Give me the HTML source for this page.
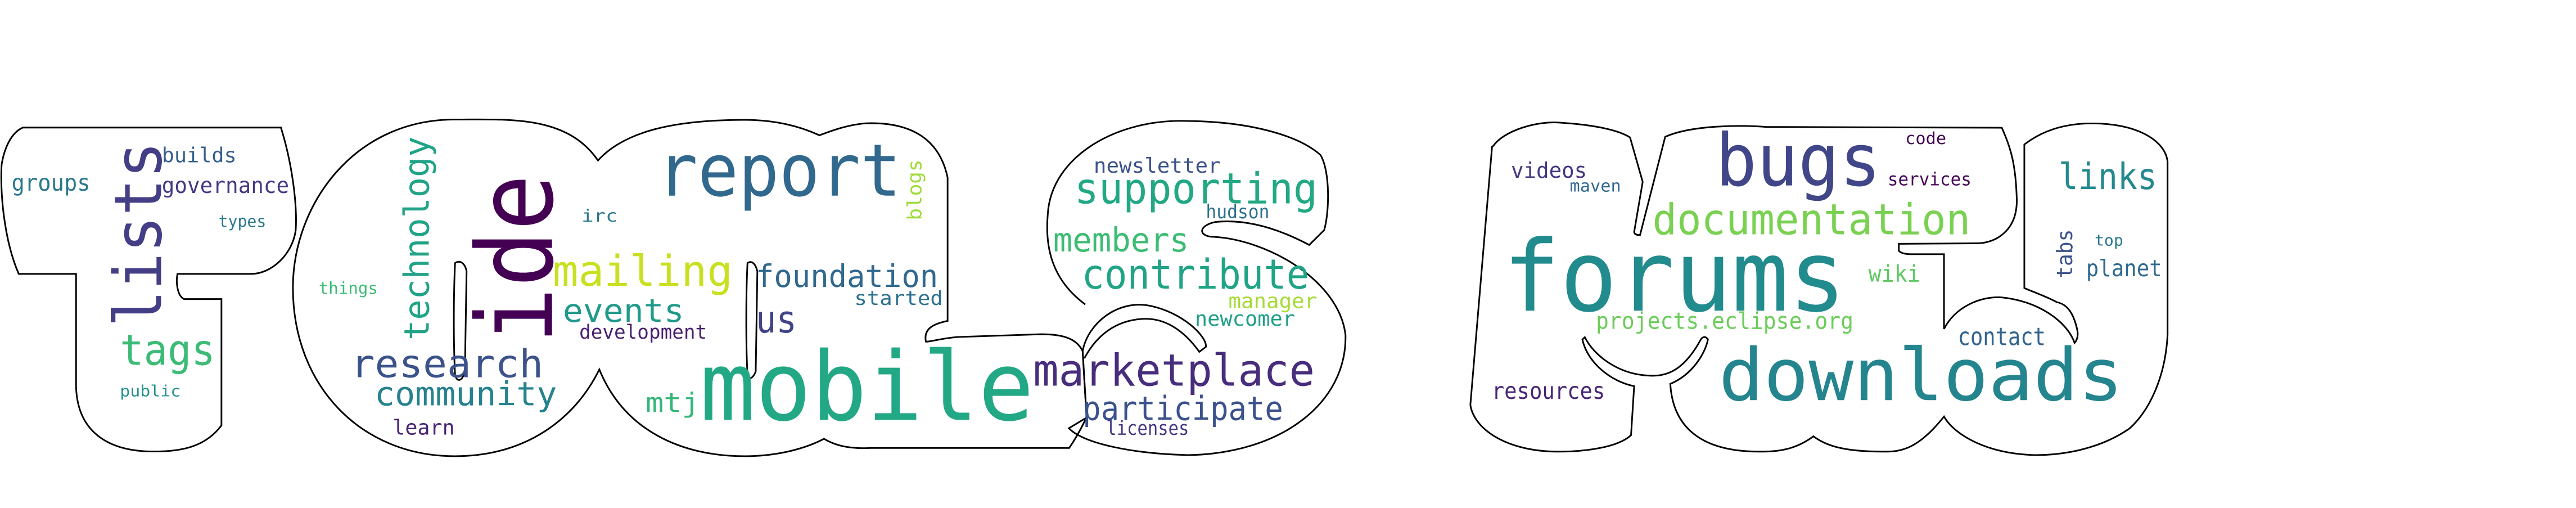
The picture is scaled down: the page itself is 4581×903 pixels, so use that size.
<!DOCTYPE html>
<html><head><meta charset="utf-8">
<style>
html,body{margin:0;padding:0;background:#fff;}
svg{display:block;}
text{font-family:"DejaVu Sans Mono","Liberation Mono",monospace;}
</style></head>
<body>
<svg width="4581" height="903" viewBox="0 0 1568 309" preserveAspectRatio="none" xmlns="http://www.w3.org/2000/svg">
<rect width="1568" height="309" fill="#fff"/>
<g fill="none" stroke="#000" stroke-width="1">
<path d="M14,77.6 L171,77.6 C178,100 181,125 180,140 C178,155 165,166.6 153,166.6 L108,166.6 C107,172 108,180 112,181.9 L134.8,181.9 L134.8,258.7 C125,272 110,275 91,274.6 C65,274 47,262 46.3,235 L46.3,166.6 L11.4,166.6 C2,145 0,115 1,100 C3,88 8,80 14,77.6 Z"/>
<path d="M364,97.6 C345,70 310,72.7 276.8,72.7 C215,72.7 178.3,125 178.3,175 C178.3,235 220,277.5 276.8,277.5 C320,277.5 350,255 364.8,224.7 C380,262 415,277.5 453.3,277.5 C475,277.5 492,272 501.6,266.9 C510,272 520,273 530,272.5 L650.8,272.5 C658,262 660,256 661.4,254 L659,213.6 C655,205 645,203.3 633.6,203.3 L582.6,205 C572,206 566,208 563.6,207.8 C562,200 568,197 576.8,195.2 L576.8,108 C572,85 555,74 527,75 C515,76 505,80 498.8,82.3 C485,76 470,72.9 453.3,72.9 C410,72.9 380,80 364,97.6 Z"/>
<path d="M660.6,185.2 C640,170 636,150 637.8,130 C640,95 680,72 723,73.6 C760,74 790,82 803.8,94.3 C810,105 809,130 806,140 L796.9,149 C780,140 760,133 740,135 C730,137 729,143 737.2,144 C770,145 815,170 819,203.7 C820,245 780,276 723,276.8 C690,276 660,270 650.6,260.5 L661.4,254 L659,213.6 C662,197 680,182 700,186 C720,190 735,205 734,211 L730,214 C720,200 708,193 695,194 C680,195 668,203 660,218"/>
<path d="M277,160 C280,158 283,160 284,165 L283,225 C282,232 278,233 277,228 C276,210 276,180 277,160 Z"/>
<path d="M455,160 C458,158 460,161 461,165 L460,226 C458,231 455,231 455,228 C454,210 454,180 455,160 Z"/>
<path d="M909.1,88.6 C915,80 935,73 951,74.7 C970,76 985,79 992.2,83.6 L999.9,110.6 L994.7,141.1 C995,143 997,143 998.3,142.9 L1013.6,83.2 C1030,76 1060,76 1074.8,77.2 L1218.5,77.7 C1224,90 1227,100 1227.6,121.3 C1228,140 1215,148 1203.2,148 L1155.8,148.3 L1155.8,152.5 C1157,154 1160,154.6 1163.4,154.6 L1183.3,154.6 L1183.3,200.1 C1190,187 1205,180 1218.5,180.9 C1240,183 1258,195 1262.8,208.6 C1265,206 1265,203 1264.3,200.1 C1262,190 1258,185 1252,183.8 C1245,180 1236,177 1232.2,175.2 L1232.2,87.9 C1245,78 1260,75 1273.5,75.1 C1300,75 1318,85 1319.4,98.5 L1319.4,203.6 C1318,230 1308,250 1296.4,260.5 C1280,272 1258,277 1238.3,276.8 C1210,276 1190,265 1183.3,253.4 C1170,270 1160,275 1148.1,274.7 C1120,275 1110,270 1103.8,265.4 C1095,272 1085,275 1071.7,274.7 C1030,275 1018,255 1016.7,233.5 C1030,228 1038,215 1039.6,206.5 C1038,204 1036,205 1035,207 C1025,225 1015,229 1004.5,228.5 C985,228 970,216 964.7,205.1 L963.2,206.5 C966,220 980,232 994.7,234.9 L992.8,264.7 C985,272 965,275 946.4,274.7 C915,274 897,260 895,246.3 L908.2,89.3 Z"/>
</g>
<g>
<text x="7" y="116" font-size="14" fill="#2a788e" textLength="48" lengthAdjust="spacingAndGlyphs">groups</text>
<text x="98.5" y="98.8" font-size="12.5" fill="#355f8d" textLength="45.5" lengthAdjust="spacingAndGlyphs">builds</text>
<text x="98.5" y="117.3" font-size="13.5" fill="#443983" textLength="77.5" lengthAdjust="spacingAndGlyphs">governance</text>
<text x="133" y="138" font-size="10" fill="#2a788e" textLength="29" lengthAdjust="spacingAndGlyphs">types</text>
<text transform="translate(98,199) rotate(-90)" font-size="40" fill="#433e85" textLength="113" lengthAdjust="spacingAndGlyphs">lists</text>
<text x="73" y="222" font-size="26" fill="#3bbb75" textLength="58" lengthAdjust="spacingAndGlyphs">tags</text>
<text x="73" y="241" font-size="9.5" fill="#21918c" textLength="37" lengthAdjust="spacingAndGlyphs">public</text>
<text x="194" y="178.8" font-size="10" fill="#3dbc74" textLength="36" lengthAdjust="spacingAndGlyphs">things</text>
<text transform="translate(261,207) rotate(-90)" font-size="21" fill="#20a386" textLength="124" lengthAdjust="spacingAndGlyphs">technology</text>
<text transform="translate(336,209) rotate(-90)" font-size="64" fill="#440154" textLength="103" lengthAdjust="spacingAndGlyphs">ide</text>
<text x="354" y="134.8" font-size="10.5" fill="#2a788e" textLength="22" lengthAdjust="spacingAndGlyphs">irc</text>
<text x="336.4" y="173.8" font-size="26" fill="#c8e020" textLength="109.6" lengthAdjust="spacingAndGlyphs">mailing</text>
<text x="342.6" y="195.8" font-size="19.5" fill="#1f9a8a" textLength="73.8" lengthAdjust="spacingAndGlyphs">events</text>
<text x="352.6" y="206" font-size="12" fill="#481f70" textLength="77.7" lengthAdjust="spacingAndGlyphs">development</text>
<text x="213.5" y="229.5" font-size="23.5" fill="#3b528b" textLength="117.2" lengthAdjust="spacingAndGlyphs">research</text>
<text x="228" y="246.5" font-size="20" fill="#26828e" textLength="111" lengthAdjust="spacingAndGlyphs">community</text>
<text x="239" y="264.3" font-size="12.5" fill="#482475" textLength="37.8" lengthAdjust="spacingAndGlyphs">learn</text>
<text x="393" y="250.6" font-size="16.5" fill="#35b779" textLength="33" lengthAdjust="spacingAndGlyphs">mtj</text>
<text x="400" y="119" font-size="44" fill="#31688e" textLength="148.5" lengthAdjust="spacingAndGlyphs">report</text>
<text transform="translate(560.8,134) rotate(-90)" font-size="12" fill="#a0da39" textLength="37" lengthAdjust="spacingAndGlyphs">blogs</text>
<text x="460" y="174.6" font-size="19" fill="#31688e" textLength="111" lengthAdjust="spacingAndGlyphs">foundation</text>
<text x="520" y="185.5" font-size="12" fill="#2c728e" textLength="54" lengthAdjust="spacingAndGlyphs">started</text>
<text x="460" y="202.3" font-size="23" fill="#414487" textLength="25" lengthAdjust="spacingAndGlyphs">us</text>
<text x="426" y="255.4" font-size="58" fill="#22a884" textLength="203.4" lengthAdjust="spacingAndGlyphs">mobile</text>
<text x="628.8" y="234.5" font-size="27" fill="#472d7b" textLength="171.5" lengthAdjust="spacingAndGlyphs">marketplace</text>
<text x="659" y="255.5" font-size="20" fill="#3b528b" textLength="122" lengthAdjust="spacingAndGlyphs">participate</text>
<text x="673.4" y="264.5" font-size="12" fill="#453781" textLength="50.3" lengthAdjust="spacingAndGlyphs">licenses</text>
<text x="665.7" y="105" font-size="12.5" fill="#3b528b" textLength="77.3" lengthAdjust="spacingAndGlyphs">newsletter</text>
<text x="654" y="123.7" font-size="26" fill="#22a884" textLength="148" lengthAdjust="spacingAndGlyphs">supporting</text>
<text x="734" y="132.7" font-size="11.5" fill="#2c728e" textLength="38.7" lengthAdjust="spacingAndGlyphs">hudson</text>
<text x="641" y="153" font-size="20" fill="#3dbc74" textLength="82.7" lengthAdjust="spacingAndGlyphs">members</text>
<text x="658.4" y="175.6" font-size="25" fill="#20a486" textLength="138.5" lengthAdjust="spacingAndGlyphs">contribute</text>
<text x="747.7" y="187.3" font-size="12.5" fill="#a5db36" textLength="54" lengthAdjust="spacingAndGlyphs">manager</text>
<text x="727.3" y="198.2" font-size="12.5" fill="#1fa088" textLength="61" lengthAdjust="spacingAndGlyphs">newcomer</text>
</g>
<g>
<text x="1159.7" y="87.6" font-size="10" fill="#440154" textLength="25" lengthAdjust="spacingAndGlyphs">code</text>
<text x="1044.2" y="112.8" font-size="44" fill="#404688" textLength="100.7" lengthAdjust="spacingAndGlyphs">bugs</text>
<text x="1149" y="112.8" font-size="11" fill="#450457" textLength="51" lengthAdjust="spacingAndGlyphs">services</text>
<text x="919.7" y="108.2" font-size="13" fill="#453781" textLength="46.3" lengthAdjust="spacingAndGlyphs">videos</text>
<text x="955.5" y="116.6" font-size="10" fill="#31688e" textLength="31.2" lengthAdjust="spacingAndGlyphs">maven</text>
<text x="1253" y="114.9" font-size="22" fill="#23898e" textLength="60" lengthAdjust="spacingAndGlyphs">links</text>
<text x="1005.8" y="142.6" font-size="26" fill="#7ad151" textLength="193.6" lengthAdjust="spacingAndGlyphs">documentation</text>
<text x="914.8" y="189" font-size="60" fill="#228b8d" textLength="208.8" lengthAdjust="spacingAndGlyphs">forums</text>
<text x="1137.3" y="171.3" font-size="14" fill="#5ec962" textLength="31.5" lengthAdjust="spacingAndGlyphs">wiki</text>
<text transform="translate(1261.3,169.3) rotate(-90)" font-size="13" fill="#3b528b" textLength="29.8" lengthAdjust="spacingAndGlyphs">tabs</text>
<text x="1275" y="149.3" font-size="9.5" fill="#2a788e" textLength="17.4" lengthAdjust="spacingAndGlyphs">top</text>
<text x="1269.8" y="168" font-size="14" fill="#306a8e" textLength="46.2" lengthAdjust="spacingAndGlyphs">planet</text>
<text x="971.4" y="200" font-size="14" fill="#6ccd5a" textLength="156.8" lengthAdjust="spacingAndGlyphs">projects.eclipse.org</text>
<text x="1191.7" y="210" font-size="15" fill="#32648e" textLength="53.5" lengthAdjust="spacingAndGlyphs">contact</text>
<text x="1046.2" y="243.4" font-size="44" fill="#25858e" textLength="246.2" lengthAdjust="spacingAndGlyphs">downloads</text>
<text x="908" y="242.7" font-size="14" fill="#482677" textLength="69" lengthAdjust="spacingAndGlyphs">resources</text>
</g>
</svg>
</body></html>
